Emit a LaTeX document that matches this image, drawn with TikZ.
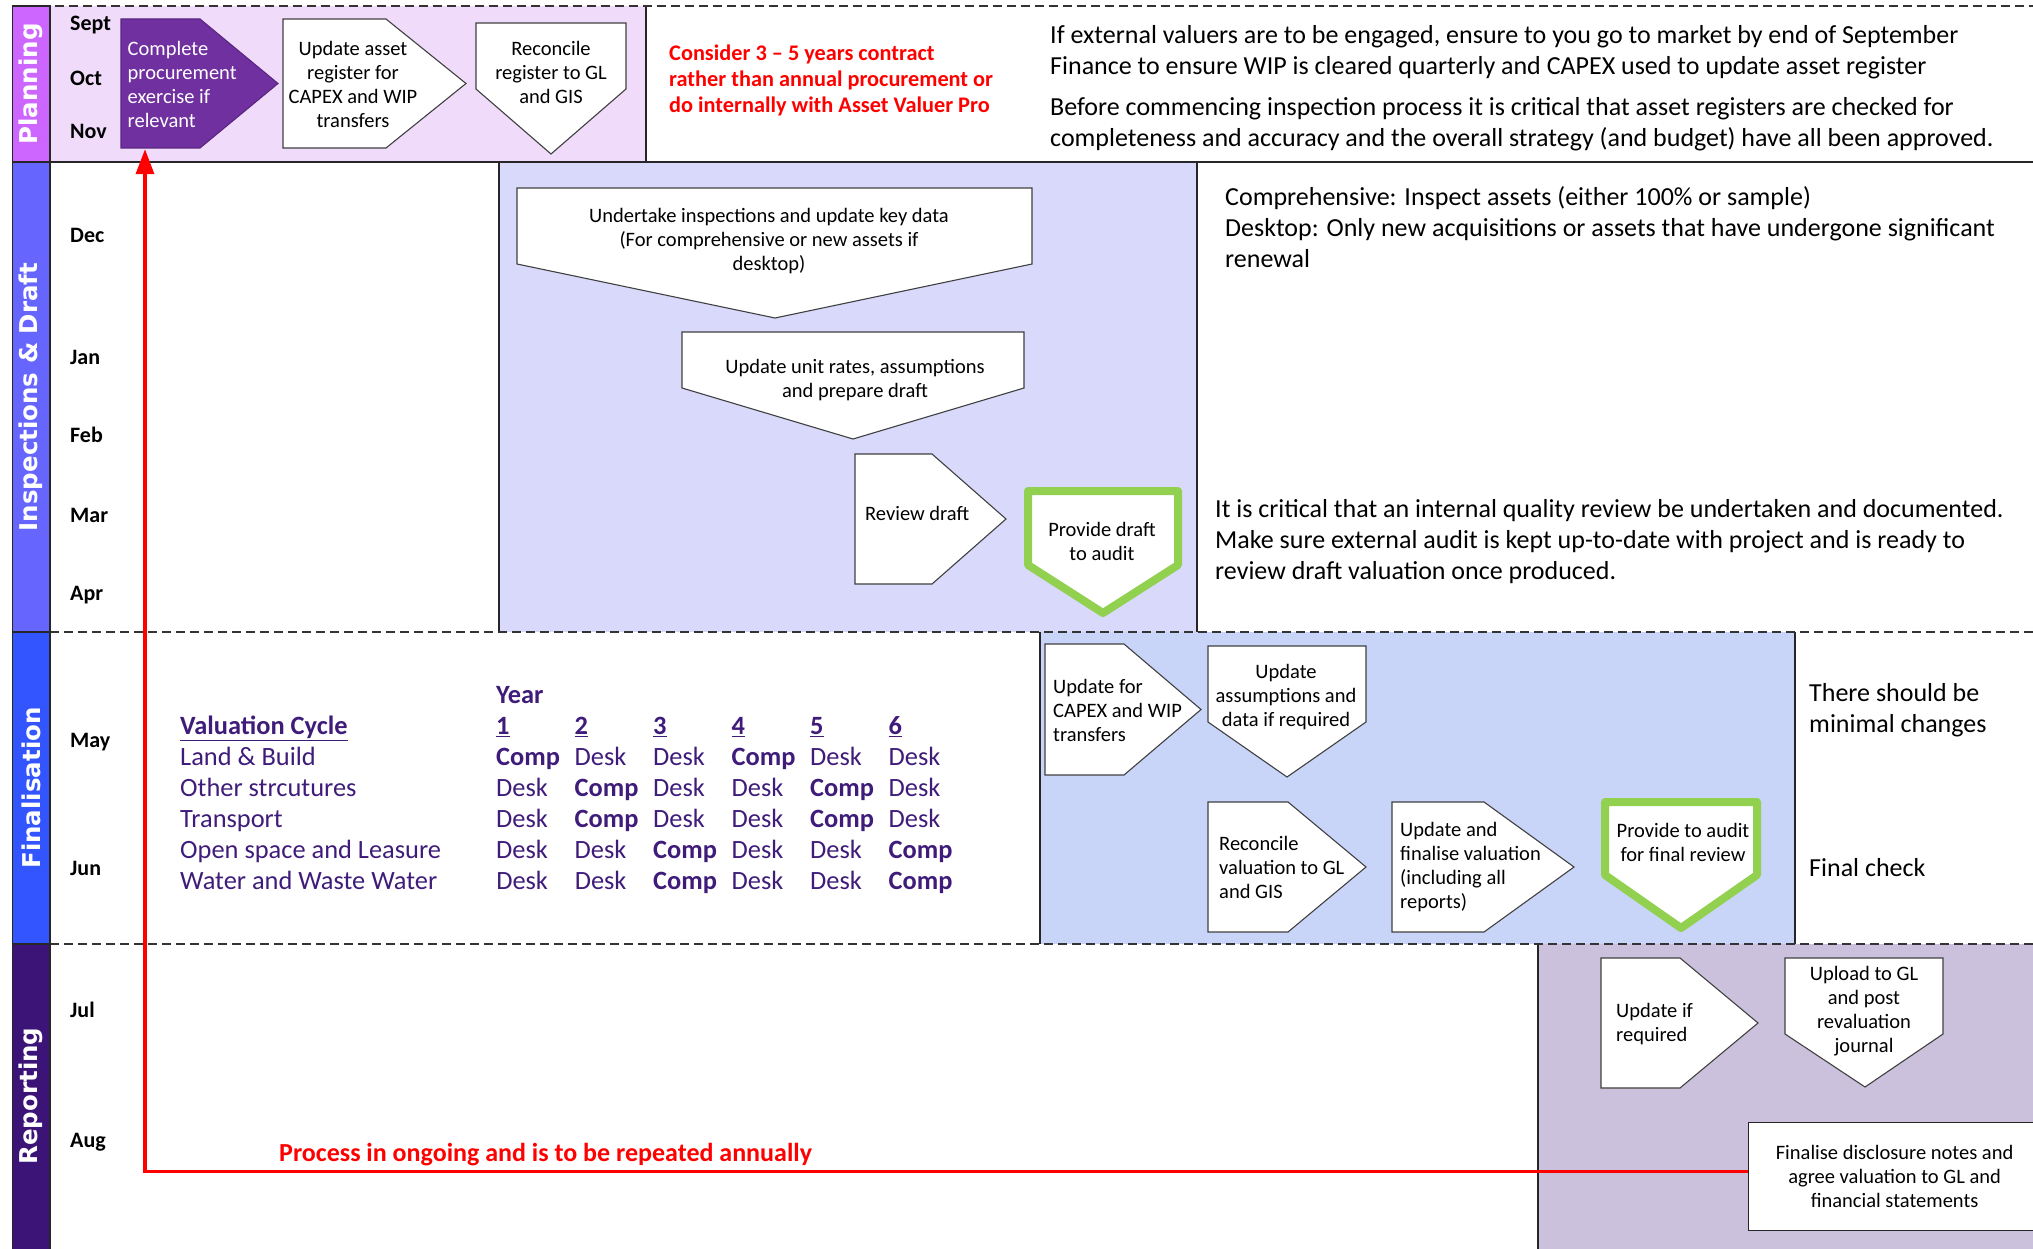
\documentclass[tikz,border=0pt]{standalone}
\usepackage{fontspec}
\setmainfont{Carlito}
\newfontfamily\lanefont{DejaVu Sans}
\usetikzlibrary{arrows.meta}
\definecolor{planbar}{HTML}{CC66FF}
\definecolor{inspbar}{HTML}{6666FF}
\definecolor{finbar}{HTML}{3355FF}
\definecolor{repbar}{HTML}{3C1477}
\definecolor{planbg}{HTML}{F0DCFA}
\definecolor{inspbg}{HTML}{D9D9FC}
\definecolor{finbg}{HTML}{C9D5F8}
\definecolor{repbg}{HTML}{CCC1DC}
\definecolor{shapepurple}{HTML}{7030A0}
\definecolor{auditgreen}{HTML}{92D050}
\definecolor{cyclepurple}{HTML}{3F1C7A}

\begin{document}
\begin{tikzpicture}[
    x=1pt, y=-1pt,
    lanebar/.style={draw=black!85, line width=1.2, fill=#1},
    lanename/.style={font=\lanefont\bfseries\fontsize{24.5}{28}\selectfont, text=white, rotate=90},
    month/.style={font=\bfseries\fontsize{22}{26}\selectfont, anchor=west, inner sep=0},
    boxedge/.style={line width=1.2, black!85},
    lanesep/.style={dash pattern=on 9pt off 5pt, line width=1.5, black!80},
    stepshape/.style={draw=black!75, line width=1.1, fill=white, line join=miter},
    auditshape/.style={draw=auditgreen, line width=8, fill=white, line join=round},
    steptext/.style={font=\fontsize{20.5}{24}\selectfont, align=center, inner sep=0},
    note/.style={font=\fontsize{26}{31}\selectfont, align=left, anchor=west, inner sep=0},
    rednote/.style={font=\bfseries\fontsize{22.3}{26}\selectfont, text=red, align=left, anchor=west, inner sep=0},
    loopline/.style={-{Triangle[length=25pt,width=18pt]}, line width=3.5, red},
]
\useasboundingbox (0,0) rectangle (2033,1249);

% ── Lane backgrounds ──
\fill[planbg] (50,6) rectangle (646,162);
\fill[inspbg] (499,162) rectangle (1197,632);
\fill[finbg] (1040,632) rectangle (1795,944);
\fill[repbg] (1538,944) rectangle (2033,1249);

\draw[boxedge] (646,6) -- (646,162);
\draw[boxedge] (499,162) -- (499,632) (1197,162) -- (1197,632);
\draw[boxedge] (1040,632) -- (1040,944) (1795,632) -- (1795,944);
\draw[boxedge] (1538,944) -- (1538,1249);

% ── Lane separators ──
\draw[lanesep] (12.5,6) -- (2033,6);
\draw[line width=1.6, black!85] (50,162) -- (2033,162);
\draw[lanesep] (50,632) -- (2033,632);
\draw[lanesep] (50,944) -- (2033,944);

% ── Lane bars ──
\draw[lanebar=planbar] (12.5,6) rectangle (50,162);
\draw[lanebar=inspbar] (12.5,162) rectangle (50,632);
\draw[lanebar=finbar] (12.5,632) rectangle (50,944);
\draw[lanebar=repbar] (12.5,944) rectangle (50,1260);
\draw[boxedge] (50,6) -- (50,1249);

\node[lanename] (plan) at (31,84) {Planning};
\node[lanename] (insp) at (31,397) {Inspections \& Draft};
\node[lanename] (fin) at (31,788) {Finalisation};
\node[lanename] (rep) at (31,1096) {Reporting};

% ── Months ──
\node[month] (sept) at (70,25) {Sept};
\node[month] (oct) at (70,78) {Oct};
\node[month] (nov) at (70,131) {Nov};
\node[month] (dec) at (70,235) {Dec};
\node[month] (jan) at (70,357) {Jan};
\node[month] (feb) at (70,435) {Feb};
\node[month] (mar) at (70,515) {Mar};
\node[month] (apr) at (70,595) {Apr};
\node[month] (may) at (70,742) {May};
\node[month] (jun) at (70,868) {Jun};
\node[month] (jul) at (70,1010) {Jul};
\node[month] (aug) at (70,1142) {Aug};

% ── Planning steps ──
\draw[fill=shapepurple, draw=shapepurple!80!black, line width=1.1]
    (121,19) -- (200,19) -- (278,83.5) -- (200,148) -- (121,148) -- cycle;
\node[steptext, text=white, align=left, anchor=west, minimum height=129] (procure) at (127.5,84.5)
    {Complete\\procurement\\exercise if\\relevant};

\draw[stepshape] (283,19) -- (386,19) -- (466,83.5) -- (386,148) -- (283,148) -- cycle;
\node[steptext] (register) at (353,84.5) {Update asset\\register for\\CAPEX and WIP\\transfers};

\draw[stepshape] (476,23) -- (626,23) -- (626,89) -- (551,154) -- (476,89) -- cycle;
\node[steptext] (reconreg) at (551,72.5) {Reconcile\\register to GL\\and GIS};

\node[rednote] (contract) at (669,80.5)
    {Consider 3 – 5 years contract\\rather than annual procurement or\\do internally with Asset Valuer Pro};

\node[note] (mktnote) at (1050,52)
    {If external valuers are to be engaged, ensure to you go to market by end of September\\Finance to ensure WIP is cleared quarterly and CAPEX used to update asset register};
\node[note] (chknote) at (1050,124)
    {Before commencing inspection process it is critical that asset registers are checked for\\completeness and accuracy and the overall strategy (and budget) have all been approved.};

% ── Inspections & Draft steps ──
\draw[stepshape] (517,188) -- (1032,188) -- (1032,264) -- (775,318) -- (517,264) -- cycle;
\node[steptext] (inspect) at (769,241.5)
    {Undertake inspections and update key data\\(For comprehensive or new assets if\\desktop)};

\draw[stepshape] (682,332) -- (1024,332) -- (1024,388) -- (853,439) -- (682,388) -- cycle;
\node[steptext] (rates) at (855,380) {Update unit rates, assumptions\\and prepare draft};

\draw[stepshape] (855,454) -- (932,454) -- (1006,519) -- (932,584) -- (855,584) -- cycle;
\node[steptext, anchor=west] (review) at (865,513) {Review draft};

\draw[auditshape] (1028,491) -- (1178,491) -- (1178,565) -- (1103,613) -- (1028,565) -- cycle;
\node[steptext] (draftaudit) at (1102,541) {Provide draft\\to audit};

\node[note] (compnote) at (1225,227.5)
    {Comprehensive: Inspect assets (either 100\% or sample)\\Desktop: Only new acquisitions or assets that have undergone significant\\renewal};
\node[note] (qualnote) at (1215,541.5)
    {It is critical that an internal quality review be undertaken and documented.\\Make sure external audit is kept up-to-date with project and is ready to\\review draft valuation once produced.};

% ── Finalisation steps ──
\draw[stepshape] (1045,644) -- (1124,644) -- (1201,709.5) -- (1124,775) -- (1045,775) -- cycle;
\node[steptext, align=left, anchor=west] (capex) at (1053,710.5) {Update for\\CAPEX and WIP\\transfers};

\draw[stepshape] (1208,646) -- (1366,646) -- (1366,722) -- (1287,777) -- (1208,722) -- cycle;
\node[steptext] (assump) at (1286,697) {Update\\assumptions and\\data if required};

\draw[stepshape] (1208,802) -- (1288,802) -- (1366,867) -- (1288,932) -- (1208,932) -- cycle;
\node[steptext, align=left, anchor=west] (reconval) at (1219,867.5) {Reconcile\\valuation to GL\\and GIS};

\draw[stepshape] (1392,802) -- (1484,802) -- (1574,867) -- (1484,932) -- (1392,932) -- cycle;
\node[steptext, align=left, anchor=west] (finalise) at (1400,867)
    {Update and\\finalise valuation\\(including all\\reports)};

\draw[auditshape] (1605,802) -- (1757,802) -- (1757,875) -- (1681,928) -- (1605,875) -- cycle;
\node[steptext] (finalaudit) at (1683,842) {Provide to audit\\for final review};

\node[note] (minnote) at (1809,710) {There should be\\minimal changes};
\node[note] (checknote) at (1809,868) {Final check};

% ── Valuation cycle table ──
\node[anchor=north west, inner sep=0, text=cyclepurple, font=\fontsize{26.4}{31}\selectfont] (cycle) at (180,682)
{\setlength\tabcolsep{0pt}%
\begin{tabular}{p{316pt}*{5}{p{78.5pt}}l}
 & \textbf{Year} & & & & & \\
\underline{\textbf{Valuation Cycle}} & \underline{\textbf{1}} & \underline{\textbf{2}} & \underline{\textbf{3}} & \underline{\textbf{4}} & \underline{\textbf{5}} & \underline{\textbf{6}} \\
Land \& Build & \textbf{Comp} & Desk & Desk & \textbf{Comp} & Desk & Desk \\
Other strcutures & Desk & \textbf{Comp} & Desk & Desk & \textbf{Comp} & Desk \\
Transport & Desk & \textbf{Comp} & Desk & Desk & \textbf{Comp} & Desk \\
Open space and Leasure & Desk & Desk & \textbf{Comp} & Desk & Desk & \textbf{Comp} \\
Water and Waste Water & Desk & Desk & \textbf{Comp} & Desk & Desk & \textbf{Comp} \\
\end{tabular}};

% ── Reporting steps ──
\draw[stepshape] (1601,958) -- (1680,958) -- (1758,1023) -- (1680,1088) -- (1601,1088) -- cycle;
\node[steptext, align=left, anchor=west] (ifreq) at (1616,1024) {Update if\\required};

\draw[stepshape] (1785,958) -- (1943,958) -- (1943,1034) -- (1865,1087) -- (1785,1034) -- cycle;
\node[steptext] (upload) at (1864,1011) {Upload to GL\\and post\\revaluation\\journal};

\node[steptext, draw=black!85, line width=1.2, fill=white, minimum width=292, minimum height=108,
      anchor=north west] (disclose) at (1748,1122)
    {Finalise disclosure notes and\\agree valuation to GL and\\financial statements};

% ── Annual loop ──
\coordinate (loopx) at (145,0);
\draw[loopline] ([yshift=5pt]disclose.west) -| (procure.south -| loopx);
\node[rednote, font=\bfseries\fontsize{26}{30}\selectfont] (annual) at (279,1155)
    {Process in ongoing and is to be repeated annually};

\end{tikzpicture}
\end{document}
